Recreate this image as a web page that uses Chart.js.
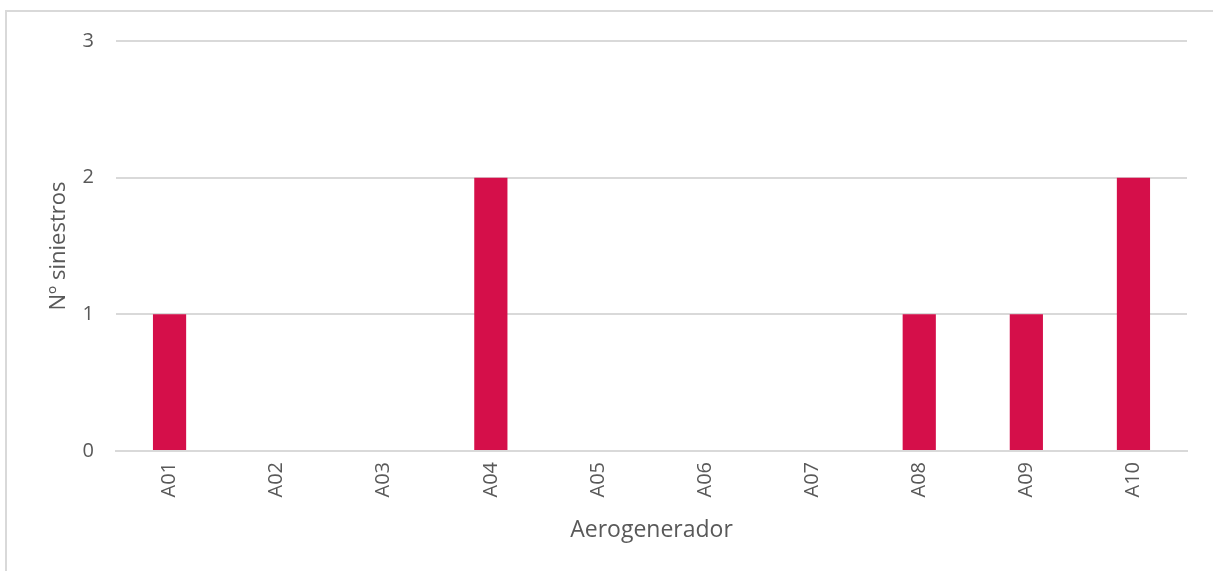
<!DOCTYPE html>
<html>
<head>
<meta charset="utf-8">
<script src="https://cdn.jsdelivr.net/npm/chart.js@4/dist/chart.umd.min.js"></script>
<style>
    html, body { margin: 0; padding: 0; background: #fff; }
    #wrap { position: relative; width: 1213px; height: 571px; overflow: hidden; }
    #frame { position: absolute; left: 5px; top: 10px; width: 1220px; height: 600px; border: 2px solid #d9d9d9; box-sizing: border-box; }
    canvas { position: absolute; left: 0; top: 0; }
</style>
</head>
<body>
<div id="wrap">
    <div id="frame"></div>
    <canvas id="chartSiniestros" width="1213" height="571"></canvas>
</div>
<script>
const aerogeneradores = ["A01", "A02", "A03", "A04", "A05", "A06", "A07", "A08", "A09", "A10"];
const siniestros = [1, 0, 0, 2, 0, 0, 0, 1, 1, 2];
const yTicks = [0, 1, 2, 3];

const textColor = "#595959";
const gridColor = "#d9d9d9";
const fontFamily = "'Open Sans', 'Liberation Sans', sans-serif";

new Chart(document.getElementById("chartSiniestros"), {
    type: "bar",
    data: {
        labels: aerogeneradores,
        datasets: [{
            data: siniestros,
            backgroundColor: "#d50f4a",
            barPercentage: 0.31,
            categoryPercentage: 1
        }]
    },
    options: {
        responsive: false,
        animation: false,
        layout: {
            padding: { top: 41, right: 26, left: 0, bottom: 0 }
        },
        plugins: {
            legend: { display: false },
            tooltip: { enabled: false }
        },
        scales: {
            x: {
                grid: { display: false, drawTicks: false },
                border: { display: true, color: gridColor, width: 2 },
                ticks: {
                    color: textColor,
                    font: { family: fontFamily, size: 20 },
                    minRotation: 90,
                    maxRotation: 90,
                    padding: 11
                },
                title: {
                    display: true,
                    text: "Aerogenerador",
                    color: textColor,
                    font: { family: fontFamily, size: 23 },
                    padding: { top: 0, bottom: 27 }
                },
                afterFit: scale => { scale.height = 120; }
            },
            y: {
                min: 0,
                max: 3,
                afterBuildTicks: scale => { scale.ticks = yTicks.map(v => ({ value: v })); },
                grid: { color: gridColor, lineWidth: 2, drawTicks: false },
                border: { display: false },
                ticks: {
                    color: textColor,
                    font: { family: fontFamily, size: 20 },
                    padding: 22
                },
                title: {
                    display: true,
                    text: "Nº siniestros",
                    color: textColor,
                    font: { family: fontFamily, size: 22 },
                    padding: { top: 46, bottom: 0 }
                },
                afterFit: scale => { scale.width = 116; }
            }
        }
    }
});
</script>
</body>
</html>
